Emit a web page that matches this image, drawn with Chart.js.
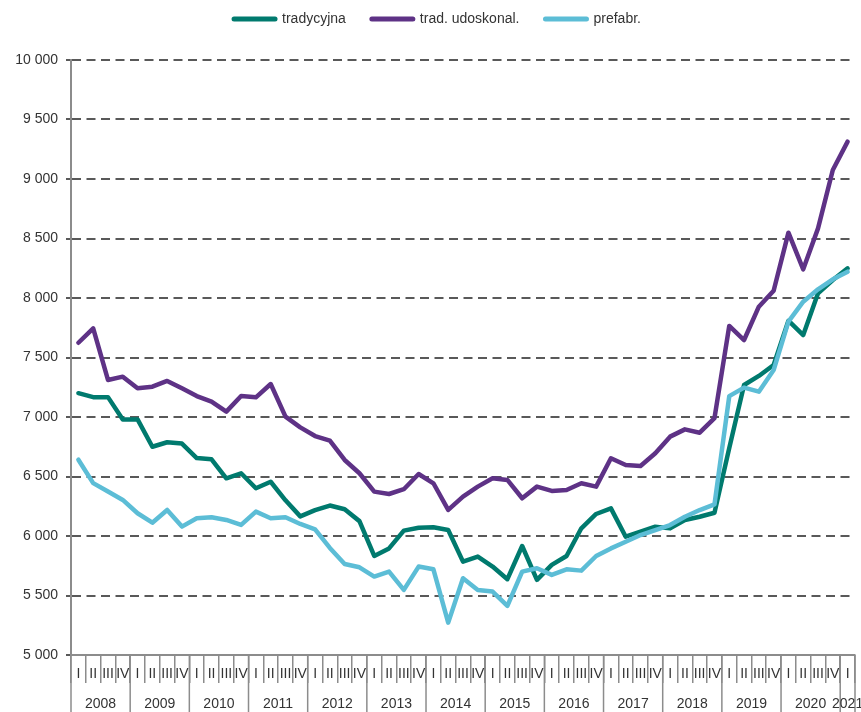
<!DOCTYPE html>
<html>
<head>
<meta charset="utf-8">
<script src="https://cdn.jsdelivr.net/npm/chart.js@4.4.0/dist/chart.umd.min.js"></script>
<style>
html, body { margin: 0; padding: 0; background: #fff; }
#wrap { width: 861px; height: 712px; }
</style>
</head>
<body>
<div id="wrap"><canvas id="cenychart"></canvas></div>
<script>
const years = ['2008', '2009', '2010', '2011', '2012', '2013', '2014', '2015', '2016', '2017', '2018', '2019', '2020', '2021'];
const quarternames = ['I', 'II', 'III', 'IV'];

// 2008 I .. 2021 I
const tradycyjna = [7200, 7167, 7167, 6980, 6980, 6750, 6788, 6777, 6655, 6644,
    6485, 6527, 6401, 6456, 6300, 6165, 6217, 6256, 6225, 6125,
    5832, 5896, 6045, 6070, 6073, 6050, 5785, 5827, 5743, 5637,
    5916, 5632, 5757, 5832, 6065, 6185, 6232, 5994, 6036, 6078,
    6064, 6134, 6162, 6195, 6740, 7269, 7345, 7437, 7809, 7689,
    8039, 8151, 8249];
const udoskonal = [7624, 7745, 7311, 7339, 7241, 7255, 7303, 7241, 7176, 7129,
    7045, 7176, 7165, 7277, 7003, 6913, 6840, 6801, 6639, 6527,
    6373, 6353, 6393, 6521, 6443, 6219, 6331, 6415, 6485, 6471,
    6317, 6415, 6379, 6387, 6443, 6415, 6653, 6597, 6588, 6695,
    6835, 6896, 6868, 6990, 7765, 7647, 7927, 8061, 8549, 8241,
    8585, 9076, 9314];
const prefabr = [6641, 6444, 6374, 6303, 6191, 6112, 6219, 6079, 6149, 6157,
    6135, 6093, 6205, 6149, 6157, 6101, 6056, 5900, 5765, 5737,
    5659, 5701, 5547, 5743, 5720, 5272, 5645, 5547, 5533, 5413,
    5701, 5729, 5673, 5720, 5709, 5832, 5896, 5952, 6008, 6050,
    6092, 6162, 6218, 6265, 7175, 7247, 7213, 7395, 7801, 7969,
    8073, 8157, 8221];

const textfont = "'Liberation Sans', Arial, sans-serif";
const textcolor = '#333333';
const axiscolor = '#8c8c8c';

// quarter labels, last year only has quarter I
let quarters = [];
let yearstart = [];
years.forEach((year, idx) => {
    yearstart.push(quarters.length);
    let n = (idx == years.length - 1) ? tradycyjna.length - quarters.length : 4;
    for (var q = 0; q < n; ++q) {
        quarters.push(quarternames[q]);
    }
});

function formatnumber(v) {
    return v.toString().replace(/\B(?=(\d{3})+(?!\d))/g, ' ');
}

// second row of the x axis: year separators and year names
const yearaxis = {
    id: 'yearaxis',
    beforeInit(chart) {
        // leave some room between legend and plot
        const fit = chart.legend.fit;
        chart.legend.fit = function () {
            fit.bind(chart.legend)();
            this.height += 24;
        };
    },
    afterLayout(chart) {
        // legend sits a bit right of the page centre
        chart.legend.left += 10;
        chart.legend.right += 10;
    },
    afterDraw(chart) {
        const xs = chart.scales.x;
        const ctx = chart.ctx;
        const half = (xs.getPixelForValue(1) - xs.getPixelForValue(0)) / 2;
        ctx.save();
        ctx.strokeStyle = axiscolor;
        ctx.lineWidth = 1.5;
        ctx.fillStyle = textcolor;
        ctx.font = '14px ' + textfont;
        ctx.textAlign = 'center';
        ctx.textBaseline = 'middle';
        years.forEach((year, idx) => {
            let first = yearstart[idx];
            let last = (idx == years.length - 1) ? quarters.length - 1 : yearstart[idx + 1] - 1;
            let left = xs.getPixelForValue(first) - half;
            let right = xs.getPixelForValue(last) + half;
            ctx.beginPath();
            ctx.moveTo(left, xs.top);
            ctx.lineTo(left, chart.height);
            if (idx == years.length - 1) {
                ctx.moveTo(right, xs.top);
                ctx.lineTo(right, chart.height);
            }
            ctx.stroke();
            ctx.fillText(year, (left + right) / 2, xs.top + 49);
        });
        ctx.restore();
    }
};

const data = {
    labels: quarters,
    datasets: [
        {
            label: 'tradycyjna',
            data: tradycyjna,
            borderColor: 'rgb(0, 122, 110)',
            backgroundColor: 'rgb(0, 122, 110)',
            order: 1
        },
        {
            label: 'trad. udoskonal.',
            data: udoskonal,
            borderColor: 'rgb(94, 50, 134)',
            backgroundColor: 'rgb(94, 50, 134)',
            order: 2
        },
        {
            label: 'prefabr.',
            data: prefabr,
            borderColor: 'rgb(92, 189, 214)',
            backgroundColor: 'rgb(92, 189, 214)',
            order: 0
        }
    ]
};

const lineconfig = {
    type: 'line',
    data: data,
    plugins: [yearaxis],
    options: {
        responsive: true,
        maintainAspectRatio: false,
        animation: false,
        layout: {
            padding: { top: -14, right: 6, left: 0, bottom: 0 }
        },
        elements: {
            line: { borderWidth: 4.5, tension: 0, borderCapStyle: 'round', borderJoinStyle: 'round' },
            point: { radius: 0 }
        },
        plugins: {
            legend: {
                position: 'top',
                labels: {
                    usePointStyle: true,
                    pointStyle: 'line',
                    pointStyleWidth: 41,
                    padding: 26,
                    color: textcolor,
                    font: { family: textfont, size: 14 },
                    generateLabels: function (chart) {
                        let items = Chart.defaults.plugins.legend.labels.generateLabels(chart);
                        items.forEach((item) => {
                            item.strokeStyle = chart.data.datasets[item.datasetIndex].borderColor;
                            item.lineWidth = 5;
                            item.lineCap = 'round';
                        });
                        return items.sort((a, b) => a.datasetIndex - b.datasetIndex);
                    }
                }
            },
            tooltip: { enabled: false }
        },
        scales: {
            x: {
                offset: true,
                grid: {
                    offset: true,
                    drawOnChartArea: false,
                    tickLength: 28,
                    color: axiscolor,
                    lineWidth: 1.5
                },
                border: { color: axiscolor, width: 2 },
                ticks: {
                    autoSkip: false,
                    maxRotation: 0,
                    padding: -17,
                    color: textcolor,
                    font: { family: textfont, size: 14 }
                },
                afterFit: function (scale) {
                    scale.height = 57;
                }
            },
            y: {
                min: 5000,
                max: 10000,
                grid: {
                    color: '#595959',
                    lineWidth: 2,
                    tickLength: 5,
                    tickColor: '#595959'
                },
                border: { color: axiscolor, width: 2, dash: [9, 5.5] },
                ticks: {
                    stepSize: 500,
                    padding: 8,
                    color: textcolor,
                    font: { family: textfont, size: 14 },
                    callback: (v) => formatnumber(v)
                },
                afterFit: function (scale) {
                    scale.width = 71;
                }
            }
        }
    }
};

new Chart(document.getElementById('cenychart'), lineconfig);
</script>
</body>
</html>
